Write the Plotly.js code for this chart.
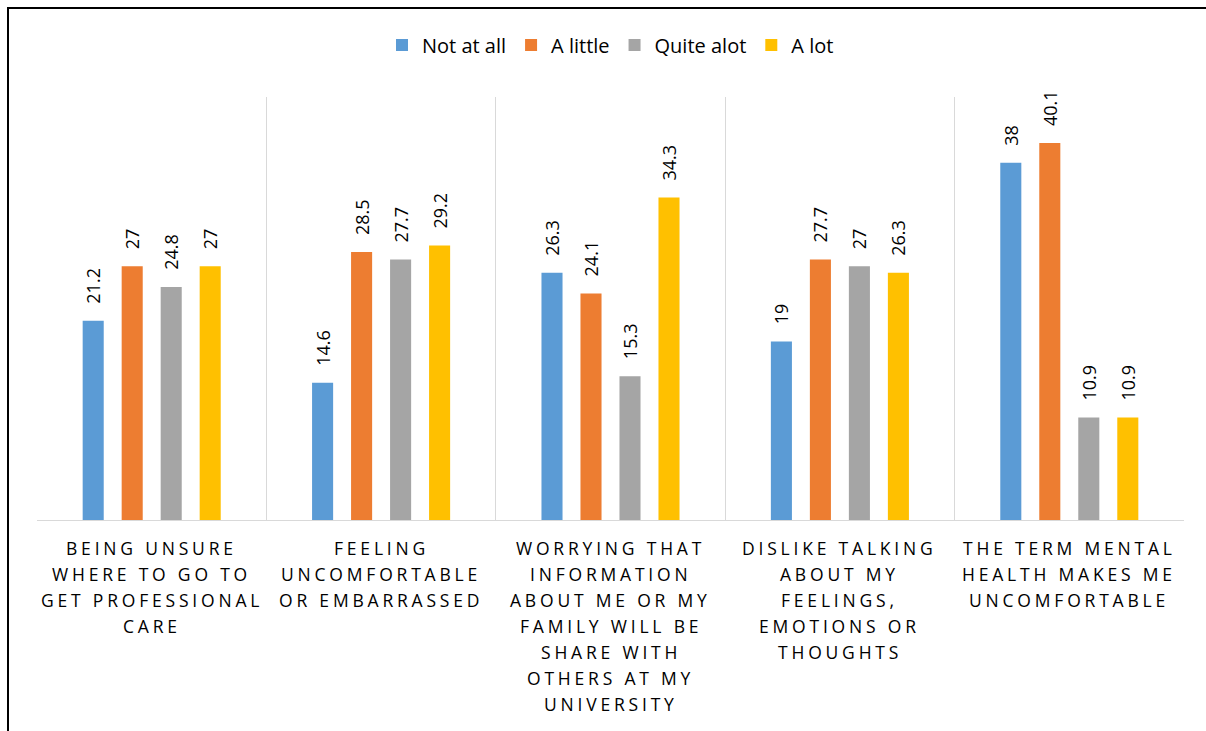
<!DOCTYPE html>
<html>
<head>
<meta charset="utf-8">
<script src="https://cdn.plot.ly/plotly-3.0.1.min.js"></script>
<style>
  html, body { margin: 0; padding: 0; background: #fff; }
  #chart { width: 1206px; height: 731px; position: relative; }
  #frame { position: absolute; left: 7px; top: 7px; width: 1300px; height: 800px;
           border-left: 2px solid #000; border-top: 2px solid #000; pointer-events: none; }
  .annotation-text { letter-spacing: 3.8px; }
</style>
</head>
<body>
<div id="chart"></div>
<div id="frame"></div>
<script>
const categories = [
  "BEING UNSURE<br>WHERE TO GO TO<br>GET PROFESSIONAL<br>CARE",
  "FEELING<br>UNCOMFORTABLE<br>OR EMBARRASSED",
  "WORRYING THAT<br>INFORMATION<br>ABOUT ME OR MY<br>FAMILY WILL BE<br>SHARE WITH<br>OTHERS AT MY<br>UNIVERSITY",
  "DISLIKE TALKING<br>ABOUT MY<br>FEELINGS,<br>EMOTIONS OR<br>THOUGHTS",
  "THE TERM MENTAL<br>HEALTH MAKES ME<br>UNCOMFORTABLE"
];
const seriesNames = ["Not at all", "A little", "Quite alot", "A lot"];
const notAtAll  = [21.2, 14.6, 26.3, 19, 38];
const aLittle   = [27, 28.5, 24.1, 27.7, 40.1];
const quiteAlot = [24.8, 27.7, 15.3, 27, 10.9];
const aLot      = [27, 29.2, 34.3, 26.3, 10.9];
const colors = ["#5b9bd5", "#ed7d31", "#a5a5a5", "#ffc000"];

const seriesValues = [notAtAll, aLittle, quiteAlot, aLot];
const traces = seriesValues.map((vals, i) => ({
  type: "bar",
  name: seriesNames[i],
  x: categories,
  y: vals,
  marker: { color: colors[i] },
  texttemplate: "\u00a0\u00a0\u00a0%{y}",
  textposition: "outside",
  textangle: -90,
  constraintext: "none",
  cliponaxis: false,
  textfont: { family: "Open Sans, sans-serif", size: 18, color: "#000" },
  hoverinfo: "skip"
}));

// Category labels: one annotation per text line (Excel-like line spacing)
const annotations = [];
categories.forEach((cat, ci) => {
  cat.split("<br>").forEach((line, li) => {
    annotations.push({
      xref: "x", x: cat,
      yref: "paper", y: 0,
      yanchor: "middle", xanchor: "center",
      yshift: -(28 + li * 26),
      text: line,
      showarrow: false,
      font: { family: "Open Sans, sans-serif", size: 17.5, color: "#000" }
    });
  });
});

const layout = {
  width: 1206,
  height: 731,
  margin: { l: 37, r: 22, t: 97, b: 211 },
  paper_bgcolor: "#fff",
  plot_bgcolor: "#fff",
  barmode: "group",
  bargap: 0.32,
  bargroupgap: 0.46,
  showlegend: true,
  legend: {
    orientation: "h",
    x: 0.5, xanchor: "center",
    y: 1.123, yanchor: "middle",
    font: { family: "Open Sans, sans-serif", size: 20, color: "#000" },
    itemwidth: 30,
    tracegroupgap: 0
  },
  annotations: annotations,
  xaxis: {
    type: "category",
    tickson: "boundaries",
    showgrid: true,
    gridcolor: "#d9d9d9",
    gridwidth: 1,
    showline: true,
    linecolor: "#d9d9d9",
    linewidth: 1,
    ticks: "",
    showticklabels: false,
    automargin: false
  },
  yaxis: {
    range: [0, 45],
    showgrid: false,
    zeroline: false,
    showticklabels: false,
    ticks: "",
    showline: false
  },
  font: { family: "Open Sans, sans-serif" }
};

Plotly.newPlot("chart", traces, layout, { displayModeBar: false, staticPlot: true });
</script>
</body>
</html>
